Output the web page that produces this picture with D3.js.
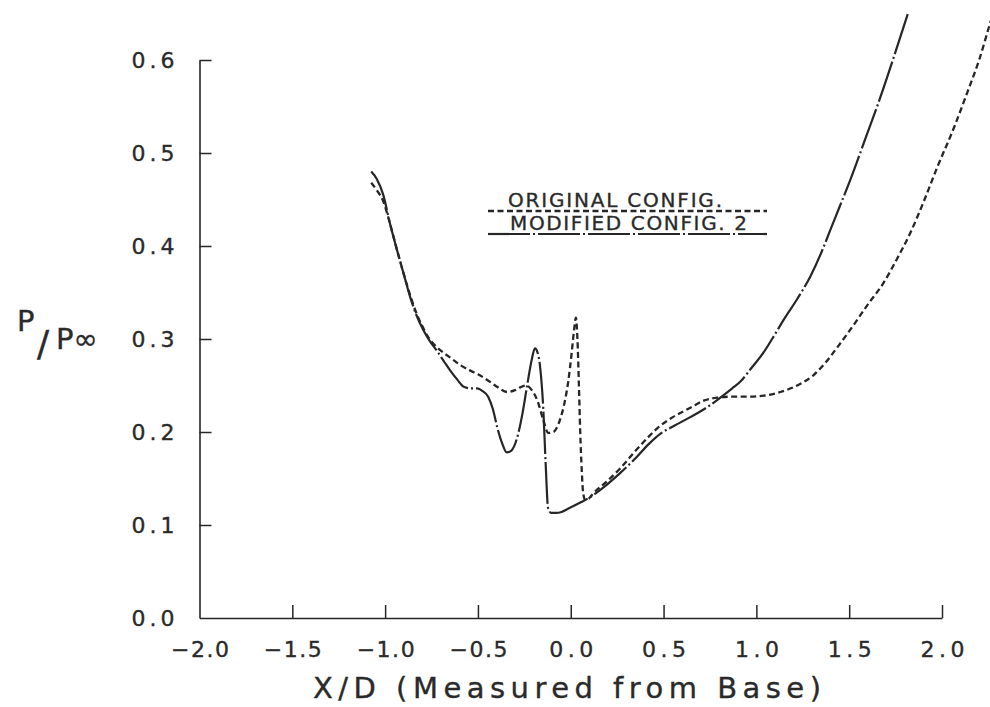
<!DOCTYPE html>
<html>
<head>
<meta charset="utf-8">
<script src="https://cdn.jsdelivr.net/npm/d3@7"></script>
<style>
  html, body { margin: 0; padding: 0; background: #fff; }
  svg { display: block; }
  text { font-family: "DejaVu Sans", "Liberation Sans", sans-serif; fill: #2a2a2a;
         stroke: #2a2a2a; stroke-width: 0.35px; }
</style>
</head>
<body>
<svg id="chart" width="990" height="707"></svg>
<script>
// Surface pressure ratio along the body, X/D measured from the base
const seriesNames = ["ORIGINAL CONFIG.", "MODIFIED CONFIG. 2"];

const originalX = [-1.075, -1.045, -1.010, -0.975, -0.935, -0.900, -0.865, -0.830, -0.795, -0.768,
  -0.740, -0.703, -0.649, -0.595, -0.541, -0.500, -0.450, -0.400, -0.342, -0.300,
  -0.272, -0.240, -0.210, -0.180, -0.148, -0.121, -0.094, -0.060, -0.035, -0.013,
  0.005, 0.018, 0.028, 0.036, 0.044, 0.051, 0.059, 0.067, 0.078, 0.100,
  0.121, 0.190, 0.267, 0.350, 0.420, 0.466, 0.550, 0.644, 0.720, 0.790,
  0.870, 0.951, 1.040, 1.129, 1.220, 1.307, 1.370, 1.436, 1.506, 1.600,
  1.684, 1.760, 1.829, 1.900, 1.975, 2.060, 2.136, 2.200, 2.260, 2.300];
const originalP = [0.468, 0.460, 0.448, 0.425, 0.395, 0.370, 0.347, 0.327, 0.312, 0.302,
  0.295, 0.288, 0.280, 0.272, 0.266, 0.262, 0.256, 0.249, 0.243, 0.245,
  0.248, 0.250, 0.245, 0.234, 0.213, 0.199, 0.200, 0.212, 0.230, 0.255,
  0.285, 0.310, 0.323, 0.300, 0.250, 0.200, 0.160, 0.134, 0.127, 0.129,
  0.134, 0.146, 0.161, 0.180, 0.195, 0.204, 0.216, 0.226, 0.234, 0.237,
  0.238, 0.238, 0.239, 0.243, 0.250, 0.261, 0.274, 0.291, 0.310, 0.337,
  0.360, 0.387, 0.414, 0.447, 0.485, 0.525, 0.565, 0.600, 0.640, 0.665];

const modifiedX = [-1.075, -1.045, -1.010, -0.975, -0.935, -0.900, -0.865, -0.830, -0.795, -0.760,
  -0.720, -0.680, -0.649, -0.610, -0.579, -0.540, -0.504, -0.475, -0.445, -0.420,
  -0.396, -0.370, -0.345, -0.320, -0.290, -0.260, -0.235, -0.210, -0.193, -0.178,
  -0.164, -0.148, -0.135, -0.122, -0.105, -0.080, -0.050, -0.020, 0.020, 0.060,
  0.105, 0.180, 0.267, 0.350, 0.420, 0.482, 0.560, 0.644, 0.730, 0.806,
  0.870, 0.913, 0.970, 1.037, 1.100, 1.145, 1.220, 1.290, 1.350, 1.398,
  1.450, 1.506, 1.590, 1.668, 1.740, 1.818];
const modifiedP = [0.480, 0.472, 0.455, 0.425, 0.395, 0.370, 0.345, 0.325, 0.310, 0.298,
  0.287, 0.275, 0.266, 0.256, 0.249, 0.247, 0.247, 0.244, 0.238, 0.225,
  0.205, 0.188, 0.178, 0.180, 0.193, 0.220, 0.250, 0.278, 0.290, 0.285,
  0.268, 0.225, 0.165, 0.118, 0.113, 0.113, 0.114, 0.117, 0.121, 0.125,
  0.130, 0.141, 0.156, 0.172, 0.187, 0.198, 0.207, 0.216, 0.226, 0.237,
  0.247, 0.254, 0.268, 0.285, 0.305, 0.320, 0.343, 0.367, 0.393, 0.417,
  0.443, 0.471, 0.517, 0.560, 0.603, 0.651];

const xTicks = [-2.0, -1.5, -1.0, -0.5, 0.0, 0.5, 1.0, 1.5, 2.0];
const yTicks = [0.0, 0.1, 0.2, 0.3, 0.4, 0.5, 0.6];

const ink = "#262626";
const svg = d3.select("#chart");
svg.append("rect").attr("width", 990).attr("height", 707).attr("fill", "#fff");

const x = d3.scaleLinear().domain([-2, 2]).range([199.5, 942]);
const y = d3.scaleLinear().domain([0, 0.6]).range([618, 60]);

// Axes: inward ticks, no frame on top or right
const xAxis = d3.axisBottom(x).tickValues(xTicks).tickFormat(d3.format(".1f"))
  .tickSizeInner(-13).tickSizeOuter(0).tickPadding(23);
const gx = svg.append("g").attr("transform", `translate(0,${y(0)})`).call(xAxis);

const yAxis = d3.axisLeft(y).tickValues(yTicks).tickFormat(d3.format(".1f"))
  .tickSizeInner(-12).tickSizeOuter(0).tickPadding(25);
const gy = svg.append("g").attr("transform", `translate(${x(-2)},0)`).call(yAxis);

[gx, gy].forEach(g => {
  g.select(".domain").attr("stroke", ink).attr("stroke-width", 1.6);
  g.selectAll(".tick line").attr("stroke", ink).attr("stroke-width", 1.5);
  g.selectAll(".tick text")
    .style("font-family", "'DejaVu Sans', 'Liberation Sans', sans-serif")
    .attr("font-size", 22).attr("fill", "#2a2a2a")
    .attr("lengthAdjust", "spacing")
    .attr("textLength", d => (d < 0 ? 58 : 44));
});
gy.selectAll(".tick text").attr("textLength", 43);
gx.selectAll(".tick line").filter(d => d === -2).remove();
gy.selectAll(".tick line").filter(d => d === 0).remove();

// Curves
const line = d3.line().x(d => x(d[0])).y(d => y(d[1])).curve(d3.curveMonotoneX);
const originalPts = originalX.map((v, i) => [v, originalP[i]]);
const modifiedPts = modifiedX.map((v, i) => [v, modifiedP[i]]);

const styles = [
  { dash: "6,3.5", width: 2.3 },
  { dash: "42,3,2,3", width: 2.2 }
];

svg.append("path").datum(originalPts).attr("d", line)
  .attr("fill", "none").attr("stroke", ink)
  .attr("stroke-width", styles[0].width).attr("stroke-dasharray", styles[0].dash);
svg.append("path").datum(modifiedPts).attr("d", line)
  .attr("fill", "none").attr("stroke", ink)
  .attr("stroke-width", styles[1].width).attr("stroke-dasharray", styles[1].dash);

// Legend: label with its line style underneath
const legend = svg.append("g");
const legendRows = [
  { name: seriesNames[0], textX: 508, base: 207, len: 214, lineY: 211 },
  { name: seriesNames[1], textX: 510, base: 230, len: 237, lineY: 234 }
];
legendRows.forEach((r, i) => {
  legend.append("text").attr("x", r.textX).attr("y", r.base)
    .attr("font-size", 20).attr("textLength", r.len).attr("lengthAdjust", "spacing")
    .text(r.name);
  legend.append("line").attr("x1", 488).attr("x2", 767)
    .attr("y1", r.lineY).attr("y2", r.lineY)
    .attr("stroke", ink).attr("stroke-width", styles[i].width)
    .attr("stroke-dasharray", styles[i].dash);
});

// Axis titles
svg.append("text").attr("x", 567).attr("y", 698).attr("text-anchor", "middle")
  .attr("font-size", 29).attr("textLength", 508).attr("lengthAdjust", "spacing")
  .text("X/D (Measured from Base)");

const ylab = svg.append("g");
ylab.append("text").attr("x", 17).attr("y", 331).attr("font-size", 29).text("P");
ylab.append("text").attr("x", 37).attr("y", 356).attr("font-size", 36).text("/");
ylab.append("text").attr("x", 56).attr("y", 349).attr("font-size", 29).text("P\u221E");
</script>
</body>
</html>
